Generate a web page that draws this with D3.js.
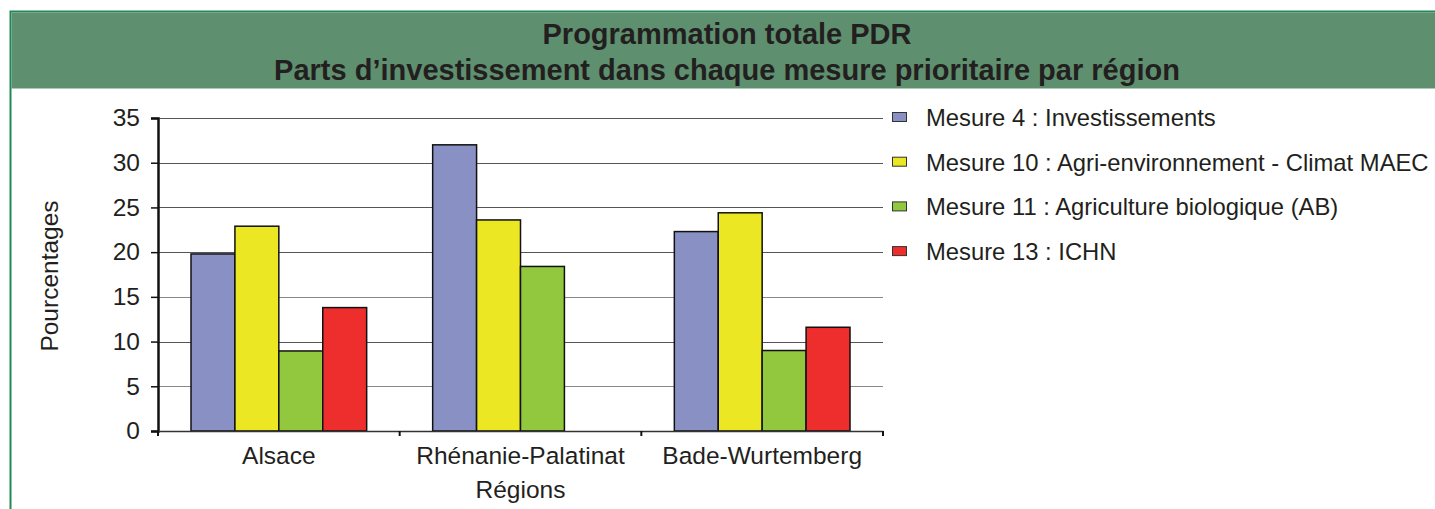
<!DOCTYPE html>
<html>
<head>
<meta charset="utf-8">
<script src="https://cdn.jsdelivr.net/npm/d3@7"></script>
<style>
  body { margin: 0; background: #fff; }
  text { font-family: "Liberation Sans", Arial, sans-serif; fill: #231f20; }
</style>
</head>
<body>
<div id="chart"></div>
<script>
const regions = ['Alsace', 'Rhénanie-Palatinat', 'Bade-Wurtemberg'];
const seriesNames = [
  'Mesure 4 : Investissements',
  'Mesure 10 : Agri-environnement - Climat MAEC',
  'Mesure 11 : Agriculture biologique (AB)',
  'Mesure 13 : ICHN'
];
const mesure4 = [19.8, 32.0, 22.3];
const mesure10 = [22.9, 23.6, 24.4];
const mesure11 = [8.95, 18.4, 9.0];
const mesure13 = [13.8, 0, 11.6];
const yTicks = [0, 5, 10, 15, 20, 25, 30, 35];
const colors = ['#8890c4', '#ebe723', '#92c83e', '#ed2e2d'];

const values = [mesure4, mesure10, mesure11, mesure13];
const data = regions.map((r, i) => ({
  region: r,
  vals: values.map((v, k) => ({ key: seriesNames[k], value: v[i], k }))
}));

const W = 1435, H = 509;
const margin = { top: 118, left: 158 };
const width = 725, height = 313;
const fs = 24.5;

const svg = d3.select('#chart').append('svg')
  .attr('width', W).attr('height', H);

// frame + header
svg.append('rect')
  .attr('x', 10.5).attr('y', 11.5).attr('width', 1440).attr('height', 520)
  .attr('fill', '#fff').attr('stroke', '#1f8a57').attr('stroke-width', 2);
svg.append('rect')
  .attr('x', 11.5).attr('y', 12.5).attr('width', 1440).attr('height', 76)
  .attr('fill', '#5e8f6e');
svg.append('text')
  .attr('x', 727).attr('y', 44).attr('text-anchor', 'middle')
  .attr('font-size', 29).attr('font-weight', 'bold')
  .text('Programmation totale PDR');
svg.append('text')
  .attr('x', 727).attr('y', 80).attr('text-anchor', 'middle')
  .attr('font-size', 29).attr('font-weight', 'bold')
  .text('Parts d\u2019investissement dans chaque mesure prioritaire par région');

const g = svg.append('g').attr('transform', `translate(${margin.left},${margin.top})`);

const x0 = d3.scaleBand().domain(regions).range([0, width]);
const x1 = d3.scaleBand().domain(d3.range(4)).range([33, x0.bandwidth() - 33]);
const y = d3.scaleLinear().domain([0, 35]).range([height, 0]);

// gridlines
g.append('g').selectAll('line')
  .data(yTicks.filter(t => t > 0))
  .join('line')
  .attr('x1', 0).attr('x2', width)
  .attr('y1', d => Math.round(y(d)) + 0.5).attr('y2', d => Math.round(y(d)) + 0.5)
  .attr('stroke', d => (d % 10 === 5 && d !== 25 && d !== 35) ? '#888' : '#555')
  .attr('stroke-width', 1.2);

// bars
g.append('g').selectAll('g')
  .data(data)
  .join('g')
  .attr('transform', d => `translate(${x0(d.region)},0)`)
  .selectAll('rect')
  .data(d => d.vals.filter(v => v.value > 0))
  .join('rect')
  .attr('x', d => x1(d.k))
  .attr('width', x1.bandwidth())
  .attr('y', d => y(d.value))
  .attr('height', d => y(0) - y(d.value))
  .attr('fill', d => colors[d.k])
  .attr('stroke', '#111').attr('stroke-width', 1.5);

// y axis
const yAxis = g.append('g')
  .call(d3.axisLeft(y).tickValues(yTicks).tickSize(7).tickPadding(11));
yAxis.select('.domain').attr('stroke', '#111').attr('stroke-width', 2.5);
yAxis.selectAll('.tick line').attr('stroke', '#111').attr('stroke-width', 1.5);
yAxis.selectAll('.tick text').attr('font-size', fs).attr('fill', '#231f20')
  .attr('font-family', '"Liberation Sans", Arial, sans-serif');

// x axis
const xAxis = g.append('g').attr('transform', `translate(0,${height})`)
  .call(d3.axisBottom(x0).tickSize(0).tickPadding(16));
xAxis.select('.domain').attr('stroke', '#333').attr('stroke-width', 1.5);
xAxis.selectAll('.tick text').attr('font-size', fs).attr('fill', '#231f20')
  .attr('font-family', '"Liberation Sans", Arial, sans-serif');
g.append('g').selectAll('line')
  .data(regions.map(r => x0(r)).concat([width]))
  .join('line')
  .attr('x1', d => d).attr('x2', d => d)
  .attr('y1', height).attr('y2', height + 5)
  .attr('stroke', '#111').attr('stroke-width', 2);

// axis titles
g.append('text')
  .attr('x', width / 2).attr('y', height + 67)
  .attr('text-anchor', 'middle').attr('font-size', fs)
  .text('Régions');
svg.append('text')
  .attr('transform', 'translate(58,276) rotate(-90)')
  .attr('text-anchor', 'middle').attr('font-size', fs)
  .text('Pourcentages');

// legend
const legend = svg.append('g').attr('transform', 'translate(892,117)');
const item = legend.selectAll('g')
  .data(seriesNames)
  .join('g')
  .attr('transform', (d, i) => `translate(0,${i * 44.7})`);
item.append('rect')
  .attr('x', 0.5).attr('y', -4.5).attr('width', 14).attr('height', 9)
  .attr('fill', (d, i) => colors[i])
  .attr('stroke', '#333').attr('stroke-width', 1);
item.append('text')
  .attr('x', 34).attr('y', 9).attr('font-size', 23.8)
  .text(d => d);
</script>
</body>
</html>
